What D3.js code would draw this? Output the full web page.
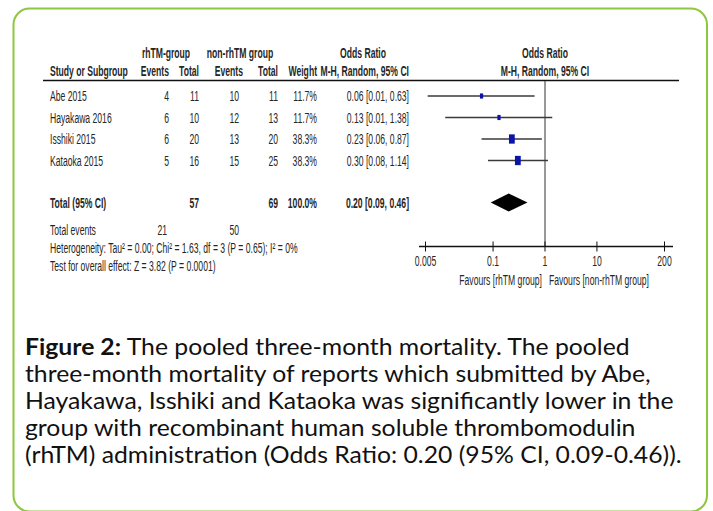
<!DOCTYPE html>
<html>
<head>
<meta charset="utf-8">
<script src="https://cdn.jsdelivr.net/npm/d3@7"></script>
<style>
  html, body { margin: 0; padding: 0; background: #fff; }
  svg { display: block; }
</style>
</head>
<body>
<div id="graphicContainer"></div>
<script>

// study level data
var studies = ["Abe 2015", "Hayakawa 2016", "Isshiki 2015", "Kataoka 2015"]
var rhEvents = [4, 6, 6, 5]
var rhTotal = [11, 10, 20, 16]
var nonEvents = [10, 12, 13, 15]
var nonTotal = [11, 13, 20, 25]
var weights = [11.7, 11.7, 38.3, 38.3]
var oddsRatio = [0.06, 0.13, 0.23, 0.30]
var ciLow = [0.0055, 0.012, 0.06, 0.08]
var ciHigh = [0.63, 1.38, 0.87, 1.14]

// pooled result
var pooled = {or: 0.20, low: 0.09, high: 0.46, rhTotal: 57, nonTotal: 69, weight: 100.0, rhEvents: 21, nonEvents: 50}

var axisTicks = [0.005, 0.1, 1, 10, 200]

var heterogeneityText = "Heterogeneity: Tau\u00b2 = 0.00; Chi\u00b2 = 1.63, df = 3 (P = 0.65); I\u00b2 = 0%"
var overallText = "Test for overall effect: Z = 3.82 (P = 0.0001)"

var captionLines = [
	["Figure 2:", " The pooled three-month mortality. The pooled"],
	["", "three-month mortality of reports which submitted by Abe,"],
	["", "Hayakawa, Isshiki and Kataoka was significantly lower in the"],
	["", "group with recombinant human soluble thrombomodulin"],
	["", "(rhTM) administration (Odds Ratio: 0.20 (95% CI, 0.09-0.46))."]
]

function init() {

	var width = 713
	var height = 511

	var svg = d3.select("#graphicContainer").append("svg")
		.attr("width", width)
		.attr("height", height)

	// green rounded frame
	svg.append("rect")
		.attr("x", 13.5)
		.attr("y", 8.5)
		.attr("width", 693.5)
		.attr("height", 503)
		.attr("rx", 16)
		.attr("fill", "#fff")
		.attr("stroke", "#8dc63f")
		.attr("stroke-width", 2)

	var plot = svg.append("g")

	var squeeze = 0.615
	var ink = "#262626"

	// condensed RevMan-style text
	function txt(x, y, str, anchor, bold) {
		return plot.append("text")
			.attr("transform", "translate(" + x + "," + y + ") scale(" + squeeze + ",1)")
			.attr("text-anchor", anchor || "start")
			.style("font-family", "'Liberation Sans', Arial, sans-serif")
			.style("font-size", "14px")
			.style("font-weight", bold ? "bold" : "normal")
			.attr("fill", ink)
			.text(str)
	}

	var col = {study: 50, rhEv: 169, rhTot: 199, nonEv: 239, nonTot: 278, weight: 317, ci: 409}

	// headers
	txt(166, 58, "rhTM-group", "middle", true)
	txt(240, 58, "non-rhTM group", "middle", true)
	txt(363, 58, "Odds Ratio", "middle", true)
	txt(545, 58, "Odds Ratio", "middle", true)

	txt(col.study, 76, "Study or Subgroup", "start", true)
	txt(col.rhEv, 76, "Events", "end", true)
	txt(col.rhTot, 76, "Total", "end", true)
	txt(243, 76, "Events", "end", true)
	txt(col.nonTot, 76, "Total", "end", true)
	txt(col.weight, 76, "Weight", "end", true)
	txt(col.ci, 76, "M-H, Random, 95% CI", "end", true)
	txt(545, 76, "M-H, Random, 95% CI", "middle", true)

	plot.append("line")
		.attr("x1", 43).attr("x2", 679)
		.attr("y1", 80.5).attr("y2", 80.5)
		.attr("stroke", "#111")
		.attr("stroke-width", 1.3)

	// rows
	var y = d3.scaleBand()
		.domain(studies)
		.range([85.25, 171.25])

	var x = d3.scaleLog()
		.domain([0.005, 200])
		.range([425.5, 664.5])

	var fmt = d3.format(".2f")

	studies.forEach(function(s, i) {
		var cy = y(s) + y.bandwidth() / 2
		var by = cy + 5
		txt(col.study, by, s, "start")
		txt(col.rhEv, by, rhEvents[i], "end")
		txt(col.rhTot, by, rhTotal[i], "end")
		txt(col.nonEv, by, nonEvents[i], "end")
		txt(col.nonTot, by, nonTotal[i], "end")
		txt(col.weight, by, weights[i].toFixed(1) + "%", "end")
		txt(col.ci, by, fmt(oddsRatio[i]) + " [" + fmt(ciLow[i]) + ", " + fmt(ciHigh[i]) + "]", "end")
	})

	// null line
	plot.append("line")
		.attr("x1", x(1)).attr("x2", x(1))
		.attr("y1", 81).attr("y2", 246.5)
		.attr("stroke", "#333")
		.attr("stroke-width", 1)

	// CI lines and squares
	var rows = plot.append("g").selectAll("g")
		.data(studies)
		.enter()
		.append("g")

	rows.append("line")
		.attr("x1", (d, i) => x(ciLow[i]))
		.attr("x2", (d, i) => x(ciHigh[i]))
		.attr("y1", d => y(d) + y.bandwidth() / 2)
		.attr("y2", d => y(d) + y.bandwidth() / 2)
		.attr("stroke", "#3a3a3a")
		.attr("stroke-width", 1.4)

	var boxSize = d3.scaleSqrt().domain([0, 38.3]).range([0, 5.8])

	rows.append("rect")
		.attr("x", (d, i) => x(oddsRatio[i]) - boxSize(weights[i]) / 2)
		.attr("y", (d, i) => y(d) + y.bandwidth() / 2 - boxSize(weights[i]) * 0.8)
		.attr("width", (d, i) => boxSize(weights[i]))
		.attr("height", (d, i) => boxSize(weights[i]) * 1.6)
		.attr("fill", "#0a14a8")

	// total row
	var ty = 202.5
	txt(col.study, ty + 5, "Total (95% CI)", "start", true)
	txt(col.rhTot, ty + 5, pooled.rhTotal, "end", true)
	txt(col.nonTot, ty + 5, pooled.nonTotal, "end", true)
	txt(col.weight, ty + 5, pooled.weight.toFixed(1) + "%", "end", true)
	txt(col.ci, ty + 5, fmt(pooled.or) + " [" + fmt(pooled.low) + ", " + fmt(pooled.high) + "]", "end", true)

	plot.append("path")
		.attr("d", d3.line()([
			[x(pooled.low), ty],
			[x(pooled.or), ty - 9],
			[x(pooled.high), ty],
			[x(pooled.or), ty + 9]
		]) + "Z")
		.attr("fill", "#000")

	txt(col.study, 234.5, "Total events", "start")
	txt(167, 234.5, pooled.rhEvents, "end")
	txt(col.nonEv, 234.5, pooled.nonEvents, "end")
	txt(col.study, 252.5, heterogeneityText, "start")
	txt(col.study, 270.5, overallText, "start")

	// log axis
	var axisY = 246.5
	plot.append("line")
		.attr("x1", 419).attr("x2", 673)
		.attr("y1", axisY).attr("y2", axisY)
		.attr("stroke", "#111")
		.attr("stroke-width", 1.6)

	plot.append("g").selectAll("line")
		.data(axisTicks)
		.enter()
		.append("line")
		.attr("x1", d => x(d)).attr("x2", d => x(d))
		.attr("y1", axisY - 5).attr("y2", axisY + 5)
		.attr("stroke", "#111")
		.attr("stroke-width", 1)

	axisTicks.forEach(function(t) {
		txt(x(t), 265.5, String(t), "middle")
	})

	txt(x(1) - 3, 284.5, "Favours [rhTM group]", "end")
	txt(x(1) + 4, 284.5, "Favours [non-rhTM group]", "start")

	// caption, stretched a little so the last line reaches the reference width
	var cap = svg.append("g")
		.style("font-family", "Lato, 'Open Sans', sans-serif")
		.style("font-size", "22.5px")
		.attr("fill", "#111")

	var capTexts = captionLines.map(function(l, i) {
		var t = cap.append("text")
			.attr("x", 0)
			.attr("y", 0)
		if (l[0]) {
			t.append("tspan").style("font-weight", "bold").text(l[0])
		}
		t.append("tspan").text(l[1])
		return t
	})

	var lastWidth = capTexts[capTexts.length - 1].node().getComputedTextLength()
	var sx = 657 / lastWidth

	capTexts.forEach(function(t, i) {
		t.attr("transform", "translate(25," + (355 + i * 27) + ") scale(" + sx + ",1)")
	})
}

init()

</script>
</body>
</html>
